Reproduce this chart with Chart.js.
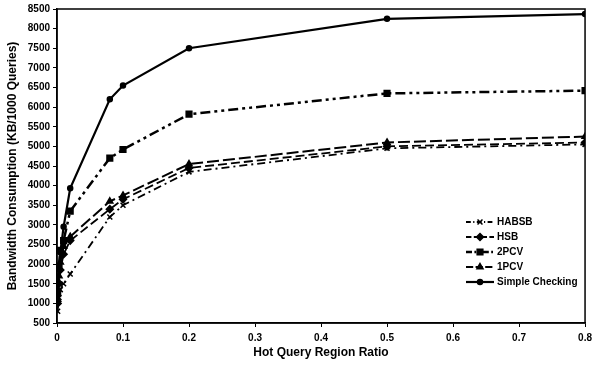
<!DOCTYPE html>
<html>
<head>
<meta charset="utf-8">
<script src="https://cdn.jsdelivr.net/npm/chart.js@4/dist/chart.umd.min.js"></script>
<style>
  html, body { margin: 0; padding: 0; background: #fff; }
  #wrap { width: 597px; height: 365px; }
</style>
</head>
<body>
<div id="wrap"><canvas id="chartCanvas" width="597" height="365"></canvas></div>
<script>
// --- data ---
const ratios = [0.001, 0.003, 0.005, 0.01, 0.02, 0.08, 0.1, 0.2, 0.5, 0.8];
const habsb = [800, 1150, 1350, 1500, 1750, 3200, 3500, 4350, 4950, 5050];
const hsb = [1000, 1500, 1850, 2250, 2600, 3400, 3650, 4450, 5000, 5100];
const pcv2 = [1250, 1900, 2350, 2600, 3350, 4700, 4920, 5820, 6350, 6420];
const pcv1 = [1100, 1700, 2050, 2450, 2700, 3600, 3750, 4550, 5100, 5250];
const simple = [1550, 1950, 2300, 2950, 3930, 6200, 6550, 7500, 8250, 8370];

const seriesNames = ["HABSB", "HSB", "2PCV", "1PCV", "Simple Checking"];
const yTicks = { min: 500, max: 8500, step: 500 };
const xTicks = { min: 0, max: 0.8, step: 0.1 };

const FONT = "'Liberation Sans', Arial, sans-serif";

function pts(values) {
  return ratios.map((r, i) => ({ x: r, y: values[i] }));
}

function series(label, values, dash, style, radius, width) {
  return {
    label,
    data: pts(values),
    borderColor: "#000",
    backgroundColor: "#000",
    borderWidth: width,
    borderDash: dash,
    pointStyle: style,
    pointRadius: radius,
    pointBorderWidth: 1.5,
    pointBorderColor: "#000",
    pointBackgroundColor: "#000",
    tension: 0,
    fill: false
  };
}

const datasets = [
  series(seriesNames[0], habsb, [8, 4, 2, 4], "crossRot", 3.5, 1.8),
  series(seriesNames[1], hsb, [9, 4], "rectRot", 3.5, 1.8),
  series(seriesNames[2], pcv2, [10, 4, 3, 4, 3, 4], "rect", 4, 2.5),
  series(seriesNames[3], pcv1, [12, 4], "triangle", 3.5, 2),
  series(seriesNames[4], simple, [], "circle", 2.5, 2.2)
];

// frame round the plot + legend inside the plot
const framePlugin = {
  id: "frame",
  afterDraw(chart) {
    const { ctx, chartArea: a } = chart;
    ctx.save();
    ctx.strokeStyle = "#000";
    ctx.lineWidth = 1.5;
    ctx.setLineDash([]);
    ctx.strokeRect(a.left, a.top, a.right - a.left, a.bottom - a.top);

    // legend
    const x0 = 466, x1 = 494, y0 = 222, gap = 15;
    ctx.font = "bold 10px " + FONT;
    ctx.textBaseline = "middle";
    ctx.fillStyle = "#000";
    chart.data.datasets.forEach((ds, i) => {
      const y = y0 + i * gap;
      ctx.save();
      ctx.lineWidth = ds.borderWidth;
      ctx.setLineDash(ds.borderDash.map(d => d * 0.6));
      ctx.beginPath();
      ctx.moveTo(x0, y);
      ctx.lineTo(x1, y);
      ctx.stroke();
      ctx.setLineDash([]);
      ctx.lineWidth = ds.pointBorderWidth;
      Chart.helpers.drawPoint(ctx, { pointStyle: ds.pointStyle, radius: ds.pointRadius, rotation: 0, borderWidth: ds.pointBorderWidth }, (x0 + x1) / 2, y);
      ctx.restore();
      ctx.fillText(ds.label, x1 + 3, y);
    });
    ctx.restore();
  }
};

const tickFont = { family: FONT, size: 10, weight: "bold" };
const titleFont = { family: FONT, size: 12, weight: "bold" };

new Chart(document.getElementById("chartCanvas"), {
  type: "line",
  data: { datasets },
  options: {
    responsive: false,
    animation: false,
    layout: { padding: { top: 5, right: 9, left: 0, bottom: 0 } },
    plugins: { legend: { display: false }, tooltip: { enabled: false } },
    scales: {
      x: {
        type: "linear",
        min: xTicks.min,
        max: xTicks.max,
        ticks: { stepSize: xTicks.step, color: "#000", font: tickFont, padding: 5, maxRotation: 0,
                 callback: v => String(Math.round(v * 10) / 10) },
        grid: { display: true, drawOnChartArea: false, color: "#000", tickLength: 4 },
        border: { display: true, color: "#000", width: 1.5 },
        title: { display: true, text: "Hot Query Region Ratio", color: "#000", font: titleFont, padding: { top: 4, bottom: 5 } },
        afterFit(scale) { scale.height = 42; }
      },
      y: {
        min: yTicks.min,
        max: yTicks.max,
        ticks: { stepSize: yTicks.step, color: "#000", font: tickFont, padding: 3,
                 callback: v => String(v) },
        grid: { display: true, drawOnChartArea: false, color: "#000", tickLength: 4 },
        border: { display: true, color: "#000", width: 1.5 },
        title: { display: true, text: "Bandwidth Consumption (KB/1000 Queries)", color: "#000", font: titleFont, padding: { top: 5, bottom: 2 } },
        afterFit(scale) { scale.width = 57; }
      }
    }
  },
  plugins: [framePlugin]
});
</script>
</body>
</html>
